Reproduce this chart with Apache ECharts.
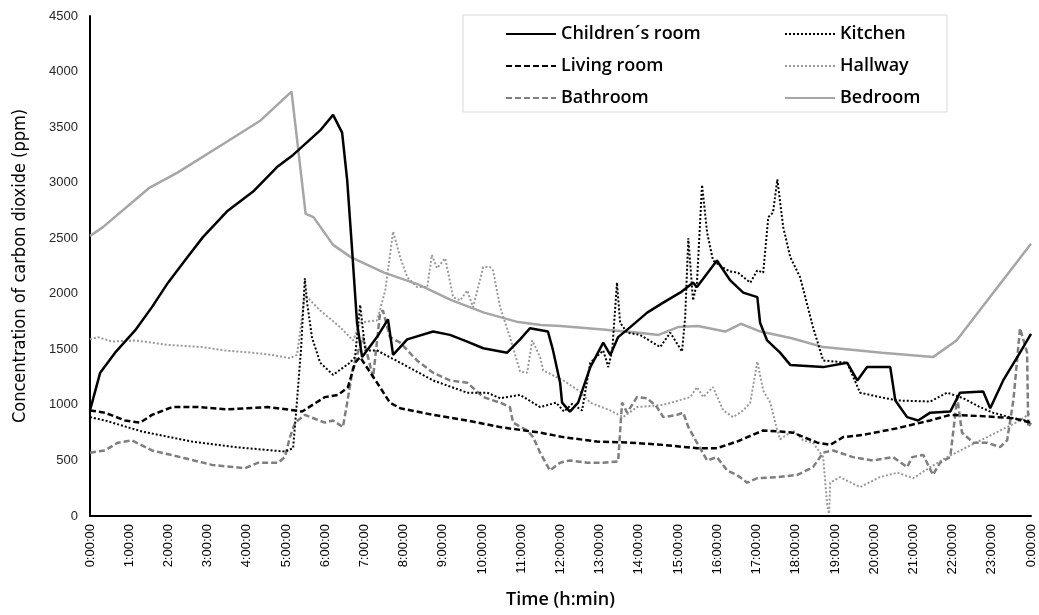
<!DOCTYPE html>
<html>
<head>
<meta charset="utf-8">
<script src="https://cdn.jsdelivr.net/npm/echarts@6/dist/echarts.min.js"></script>
<style>
  html, body { margin: 0; padding: 0; background: #fff; }
  #chart { width: 1039px; height: 615px; }
</style>
</head>
<body>
<div id="chart"></div>
<script>
// x = hours since midnight, y = CO2 in ppm
const timeLabels = ['0:00:00', '1:00:00', '2:00:00', '3:00:00', '4:00:00', '5:00:00', '6:00:00',
  '7:00:00', '8:00:00', '9:00:00', '10:00:00', '11:00:00', '12:00:00', '13:00:00', '14:00:00',
  '15:00:00', '16:00:00', '17:00:00', '18:00:00', '19:00:00', '20:00:00', '21:00:00', '22:00:00',
  '23:00:00', '0:00:00']

const childrensRoom = [[0, 950], [0.26, 1290], [0.64, 1470], [1.15, 1670], [1.58, 1880], [1.99, 2100],
  [2.42, 2300], [2.88, 2510], [3.49, 2740], [4.16, 2920], [4.77, 3140], [5.18, 3250], [5.87, 3470],
  [6.2, 3610], [6.43, 3450], [6.56, 3020], [6.68, 2420], [6.81, 1740], [6.94, 1430], [7.32, 1610],
  [7.6, 1770], [7.73, 1450], [8.09, 1590], [8.75, 1660], [9.18, 1630], [9.62, 1570], [10.03, 1510],
  [10.64, 1470], [10.97, 1590], [11.22, 1690], [11.68, 1660], [11.81, 1490], [11.99, 1200], [12.04, 1020],
  [12.24, 940], [12.45, 1020], [12.76, 1340], [13.09, 1560], [13.27, 1450], [13.47, 1610], [13.78, 1700],
  [14.21, 1830], [14.62, 1920], [15.05, 2010], [15.38, 2100], [15.48, 2060], [15.99, 2300], [16.33, 2120],
  [16.66, 2010], [17.02, 1970], [17.09, 1740], [17.27, 1580], [17.6, 1470], [17.86, 1360], [18.7, 1340],
  [19.31, 1380], [19.57, 1220], [19.82, 1340], [20.41, 1340], [20.54, 1040], [20.84, 890], [21.12, 860],
  [21.43, 930], [21.94, 940], [22.19, 1110], [22.78, 1120], [22.96, 970], [23.29, 1220], [23.72, 1470],
  [24, 1640]]

const kitchen = [[0, 890], [0.38, 860], [1.33, 760], [2.6, 670], [3.7, 620], [4.97, 580], [5.18, 610],
  [5.26, 950], [5.38, 1490], [5.48, 2140], [5.53, 1940], [5.66, 1610], [5.87, 1380], [6.2, 1270],
  [6.63, 1380], [6.76, 1430], [6.89, 1900], [7.02, 1490], [7.32, 1490], [7.91, 1380], [8.75, 1220],
  [9.62, 1110], [10.13, 1110], [10.46, 1060], [10.97, 1090], [11.48, 980], [11.89, 1020], [12.09, 940],
  [12.3, 1010], [12.55, 950], [12.76, 1380], [13.09, 1490], [13.22, 1340], [13.32, 1490], [13.44, 2100],
  [13.52, 1740], [13.7, 1650], [14.03, 1630], [14.54, 1520], [14.8, 1650], [15.1, 1480], [15.18, 1790],
  [15.26, 2500], [15.38, 1940], [15.48, 2100], [15.61, 2980], [15.74, 2550], [15.89, 2300], [16.12, 2240],
  [16.33, 2200], [16.53, 2190], [16.84, 2100], [17.02, 2210], [17.17, 2190], [17.3, 2690], [17.42, 2730],
  [17.53, 3030], [17.68, 2600], [17.86, 2330], [18.11, 2150], [18.44, 1700], [18.7, 1400], [19.31, 1380],
  [19.64, 1110], [20.15, 1070], [20.59, 1040], [21.43, 1030], [21.86, 1110], [22.27, 1060], [22.7, 980],
  [23.03, 930], [23.55, 880], [24, 850]]

const livingRoom = [[0, 950], [0.38, 930], [0.89, 860], [1.28, 840], [1.58, 910], [2.09, 980], [2.76, 980],
  [3.52, 960], [4.54, 980], [5.23, 950], [5.41, 940], [5.99, 1070], [6.33, 1090], [6.58, 1160],
  [6.76, 1380], [6.89, 1430], [7.32, 1200], [7.65, 1020], [7.91, 970], [8.75, 910], [9.62, 860],
  [10.46, 800], [11.48, 750], [12.07, 710], [12.93, 670], [13.78, 660], [14.62, 640], [15.48, 610],
  [15.99, 610], [16.5, 670], [17.17, 770], [17.6, 760], [17.93, 750], [18.55, 660], [18.88, 640],
  [19.21, 710], [19.72, 730], [20.59, 790], [21.43, 860], [21.94, 910], [22.7, 900], [23.55, 880], [24, 840]]

const hallway = [[0, 1590], [0.2, 1610], [0.56, 1570], [1.15, 1580], [1.99, 1540], [2.86, 1520], [3.44, 1490],
  [4.13, 1470], [4.64, 1450], [5.1, 1420], [5.28, 1450], [5.48, 1990], [5.87, 1850], [6.38, 1700],
  [6.71, 1580], [6.89, 1740], [7.07, 1750], [7.32, 1760], [7.53, 2030], [7.73, 2560], [7.91, 2330],
  [8.09, 2150], [8.34, 2060], [8.6, 2060], [8.72, 2350], [8.85, 2230], [9.06, 2320], [9.26, 1970],
  [9.44, 1940], [9.62, 2030], [9.77, 1880], [10.03, 2240], [10.2, 2240], [10.28, 2210], [10.46, 1880],
  [10.71, 1610], [10.97, 1300], [11.15, 1290], [11.28, 1580], [11.48, 1430], [11.56, 1310], [12.07, 1220],
  [12.5, 1120], [12.76, 1020], [13.27, 950], [13.6, 890], [13.95, 980], [14.62, 1000], [15.31, 1070],
  [15.48, 1160], [15.64, 1070], [15.89, 1160], [16.15, 950], [16.4, 890], [16.66, 950], [16.84, 1020],
  [17.02, 1390], [17.17, 1130], [17.35, 1020], [17.53, 770], [17.6, 690], [17.93, 770], [18.19, 680],
  [18.44, 660], [18.7, 530], [18.8, 100], [18.85, 20], [18.88, 300], [19.13, 350], [19.64, 260],
  [20.15, 350], [20.59, 390], [21.0, 340], [21.43, 440], [21.86, 530], [22.37, 620], [22.88, 710],
  [23.39, 800], [23.72, 860], [24, 930]]

const bathroom = [[0, 570], [0.38, 590], [0.71, 660], [1.07, 680], [1.58, 590], [2.42, 520], [3.11, 460],
  [3.95, 430], [4.29, 480], [4.8, 480], [4.97, 530], [5.1, 710], [5.23, 840], [5.48, 910], [5.99, 840],
  [6.2, 860], [6.45, 800], [6.56, 1020], [6.71, 1340], [6.96, 1610], [7.22, 1250], [7.4, 1830],
  [7.47, 1850], [7.65, 1610], [7.91, 1560], [8.34, 1400], [8.75, 1290], [9.18, 1220], [9.62, 1200],
  [10.03, 1070], [10.46, 1020], [10.71, 980], [10.79, 840], [11.15, 770], [11.3, 710], [11.48, 570],
  [11.73, 410], [11.99, 480], [12.24, 500], [12.68, 480], [13.09, 480], [13.47, 490], [13.57, 1020],
  [13.7, 930], [13.95, 1070], [14.21, 1060], [14.46, 980], [14.62, 890], [14.97, 910], [15.13, 930],
  [15.26, 800], [15.48, 660], [15.74, 500], [15.99, 530], [16.25, 410], [16.5, 370], [16.76, 300],
  [17.02, 340], [17.53, 350], [18.04, 370], [18.44, 440], [18.7, 570], [18.95, 590], [19.46, 530],
  [19.97, 500], [20.48, 530], [20.84, 440], [20.97, 530], [21.25, 550], [21.5, 370], [21.68, 480],
  [21.94, 530], [22.12, 1070], [22.24, 750], [22.53, 660], [22.88, 660], [23.21, 620], [23.39, 680],
  [23.55, 1040], [23.72, 1690], [23.9, 1470], [23.93, 800], [24, 840]]

const bedroom = [[0, 2520], [0.33, 2600], [1.5, 2950], [2.23, 3090], [3.5, 3370], [4.35, 3560], [5.14, 3820],
  [5.5, 2720], [5.7, 2690], [6.2, 2440], [6.65, 2330], [7.5, 2190], [8.4, 2080], [9.2, 1945], [10.05, 1830],
  [10.92, 1745], [11.5, 1720], [12, 1710], [13, 1680], [14, 1650], [14.5, 1630], [15, 1700], [15.5, 1710],
  [16.2, 1660], [16.6, 1730], [17.1, 1660], [17.9, 1600], [18.7, 1520], [20.2, 1470], [21.5, 1430],
  [22.1, 1580], [24, 2450]]

const chart = echarts.init(document.getElementById('chart'))

function lineSeries(name, data, color, width, dash, z) {
  return {
    name: name,
    type: 'line',
    data: data,
    symbol: 'none',
    showSymbol: false,
    z: z,
    lineStyle: { color: color, width: width, type: dash },
    // no marker in the legend, only the line sample
    itemStyle: { color: 'rgba(0,0,0,0)' }
  }
}

const legendText = { fontFamily: "'Open Sans', sans-serif", fontSize: 18, fontWeight: 600, color: '#000', lineHeight: 20 }
const tickFont = "'Liberation Sans', Arial, sans-serif"

const option = {
  animation: false,
  backgroundColor: '#fff',
  // fixed plot box, don't let v6 shrink it around the axis names
  grid: { left: 90, right: 8, top: 16, bottom: 99, outerBoundsMode: 'none' },
  // legend box is drawn by hand, the two legends are its columns
  graphic: [{
    type: 'rect',
    shape: { x: 463, y: 15, width: 484, height: 97 },
    style: { fill: '#fff', stroke: '#d9d9d9', lineWidth: 1 },
    z: 0
  }],
  legend: [
    {
      data: ['Children´s room', 'Living room', 'Bathroom'],
      orient: 'vertical',
      left: 500, top: 19,
      itemWidth: 50, itemHeight: 14, itemGap: 12,
      itemStyle: { opacity: 0 },
      textStyle: legendText
    },
    {
      data: ['Kitchen', 'Hallway', 'Bedroom'],
      orient: 'vertical',
      left: 779, top: 19,
      itemWidth: 50, itemHeight: 14, itemGap: 12,
      itemStyle: { opacity: 0 },
      textStyle: legendText
    }
  ],
  xAxis: {
    type: 'value',
    min: 0, max: 24, interval: 1,
    name: 'Time (h:min)',
    nameLocation: 'middle',
    nameGap: 75,
    nameTextStyle: { fontFamily: "'Open Sans', sans-serif", fontSize: 18, fontWeight: 600, color: '#000' },
    axisLine: { lineStyle: { color: '#000', width: 2 } },
    axisTick: { show: false },
    splitLine: { show: false },
    axisLabel: {
      rotate: 90,
      margin: 8,
      color: '#000',
      fontFamily: tickFont,
      fontSize: 13,
      formatter: v => timeLabels[v]
    }
  },
  yAxis: {
    type: 'value',
    min: 0, max: 4500, interval: 500,
    name: 'Concentration of carbon dioxide (ppm)',
    nameLocation: 'middle',
    nameGap: 61,
    nameTextStyle: { fontFamily: "'Liberation Sans Narrow', 'DejaVu Sans Condensed', sans-serif", fontSize: 18, color: '#000' },
    axisLine: { show: true, lineStyle: { color: '#000', width: 2 } },
    axisTick: { show: false },
    splitLine: { show: false },
    axisLabel: {
      margin: 12,
      color: '#262626',
      fontFamily: tickFont,
      fontSize: 13,
      formatter: v => String(v)
    }
  },
  series: [
    lineSeries('Children´s room', childrensRoom, '#000', 2.5, 'solid', 8),
    lineSeries('Kitchen', kitchen, '#000', 2, [2, 2], 7),
    lineSeries('Living room', livingRoom, '#000', 2.5, [6, 3], 6),
    lineSeries('Hallway', hallway, '#999999', 2, [2, 2], 4),
    lineSeries('Bathroom', bathroom, '#7f7f7f', 2.5, [6, 3], 5),
    lineSeries('Bedroom', bedroom, '#a6a6a6', 2.5, 'solid', 3)
  ]
}

chart.setOption(option)
</script>
</body>
</html>
